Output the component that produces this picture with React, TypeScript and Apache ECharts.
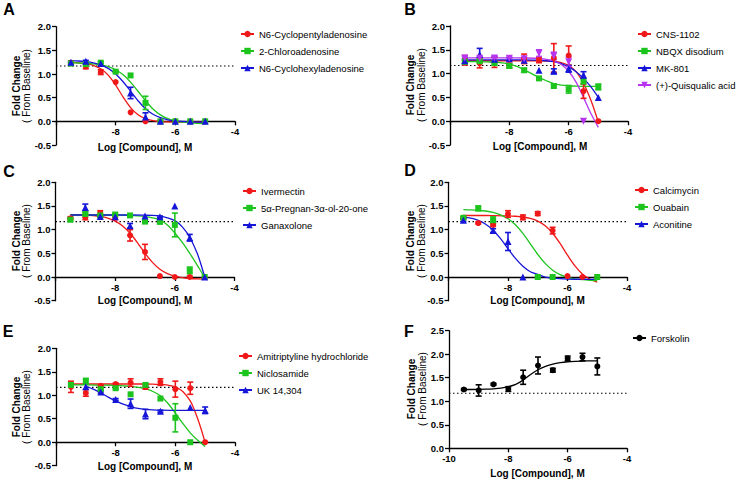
import React, { useEffect, useRef } from "react";
import * as echarts from "echarts";

// ---------- shared ----------
const doses = [-9.5, -9, -8.5, -8, -7.5, -7, -6.5, -6, -5.5, -5];
const baseline = 1.17;
const xTickValues = [-10, -8, -6, -4];

// ---------- Panel A ----------
const cpaY = [1.24, 1.16, 1.04, 0.83, 0.19, 0.0, 0.0, 0.0, 0.0, 0.0];
const cpaErr = [0.03, 0.05, 0.05, 0, 0, 0, 0, 0, 0, 0];
const cpaFit = [[-9.5, 1.244], [-9.25, 1.236], [-9, 1.22], [-8.75, 1.184], [-8.5, 1.11], [-8.25, 0.976], [-8, 0.765], [-7.75, 0.513], [-7.5, 0.29], [-7.25, 0.14], [-7, 0.057], [-6.75, 0.016], [-6.5, -0.004], [-6.25, -0.012], [-6, -0.016], [-5.5, -0.019], [-5, -0.02]];

const caY = [1.22, 1.21, 1.24, 1.05, 0.97, 0.39, 0.0, 0.0, 0.0, 0.0];
const caErr = [0.03, 0, 0.02, 0.02, 0, 0.14, 0, 0, 0, 0];
const caFit = [[-9.5, 1.236], [-9.25, 1.233], [-9, 1.227], [-8.75, 1.215], [-8.5, 1.194], [-8.25, 1.156], [-8, 1.09], [-7.75, 0.984], [-7.5, 0.83], [-7.25, 0.636], [-7, 0.435], [-6.75, 0.262], [-6.5, 0.137], [-6.25, 0.057], [-6, 0.009], [-5.75, -0.018], [-5.5, -0.033], [-5.25, -0.042], [-5, -0.046]];

const chaY = [1.25, 1.27, 1.22, null, 0.6, 0.09, 0.0, 0.0, 0.0, 0.0];
const chaErr = [0.02, 0.02, 0, 0, 0.12, 0.09, 0, 0, 0, 0];
const chaFit = [[-9.5, 1.282], [-9.25, 1.275], [-9, 1.261], [-8.75, 1.237], [-8.5, 1.194], [-8.25, 1.12], [-8, 1.0], [-7.75, 0.836], [-7.5, 0.635], [-7.25, 0.435], [-7, 0.268], [-6.75, 0.151], [-6.5, 0.077], [-6.25, 0.033], [-6, 0.009], [-5.5, -0.01], [-5, -0.017]];

// ---------- Panel B ----------
const cnsY = [1.28, 1.22, 1.24, 1.17, 1.31, 1.28, 1.33, 1.38, 0.63, 0.0];
const cnsErr = [0.1, 0.1, 0.11, 0.05, 0.1, 0.05, 0.3, 0.2, 0.15, 0];
const cnsFit = [[-9.5, 1.27], [-8.5, 1.27], [-7.5, 1.27], [-7, 1.268], [-6.75, 1.264], [-6.5, 1.255], [-6.25, 1.23], [-6, 1.17], [-5.75, 1.04], [-5.5, 0.8], [-5.375, 0.63], [-5.25, 0.44], [-5.125, 0.22], [-5, -0.02]];

const nbqxY = [1.25, 1.26, 1.22, 1.16, 1.07, 0.9, 0.74, 0.67, 0.83, 0.72];
const nbqxErr = [0.04, 0.03, 0.03, 0.04, 0.04, 0, 0.03, 0.08, 0, 0.06];
const nbqxFit = [[-9.5, 1.25], [-9, 1.25], [-8.75, 1.245], [-8.5, 1.24], [-8.25, 1.225], [-8, 1.2], [-7.75, 1.15], [-7.5, 1.08], [-7.25, 1.0], [-7, 0.92], [-6.75, 0.85], [-6.5, 0.79], [-6.25, 0.76], [-6, 0.745], [-5.75, 0.737], [-5.5, 0.733], [-5, 0.73]];

const mkY = [1.27, 1.4, 1.3, 1.31, 1.28, 1.07, 1.05, 1.1, 0.97, 0.5];
const mkErr = [0.05, 0.13, 0.06, 0.03, 0, 0, 0.05, 0.07, 0.07, 0];
const mkFit = [[-9.5, 1.29], [-8, 1.29], [-7.5, 1.288], [-7, 1.28], [-6.75, 1.27], [-6.5, 1.25], [-6.25, 1.21], [-6, 1.14], [-5.75, 1.04], [-5.5, 0.9], [-5.25, 0.72], [-5, 0.5]];

const qaY = [1.33, 1.32, 1.33, 1.32, 1.31, 1.43, 1.37, 1.25, 0.0, null];
const qaErr = [0.03, 0.03, 0.03, 0.02, 0.03, 0.07, 0.08, 0.1, 0, 0];
const qaFit = [[-9.5, 1.33], [-8, 1.33], [-7.5, 1.328], [-7, 1.32], [-6.75, 1.3], [-6.5, 1.27], [-6.25, 1.19], [-6, 1.05], [-5.75, 0.82], [-5.5, 0.5], [-5.25, 0.16], [-5, -0.13]];

// ---------- Panel C ----------
const ivY = [1.24, 1.26, 1.35, 1.25, 0.88, 0.53, 0.02, 0.0, 0.0, 0.0];
const ivErr = [0.03, 0.05, 0.05, 0.04, 0.12, 0.16, 0, 0, 0.02, 0];
const ivFit = [[-9.5, 1.317], [-9.25, 1.314], [-9, 1.309], [-8.75, 1.298], [-8.5, 1.279], [-8.25, 1.244], [-8, 1.18], [-7.75, 1.079], [-7.5, 0.924], [-7.25, 0.723], [-7, 0.5], [-6.75, 0.31], [-6.5, 0.164], [-6.25, 0.072], [-6, 0.017], [-5.75, -0.014], [-5.5, -0.031], [-5.25, -0.04], [-5, -0.044]];

const pregY = [1.21, 1.33, 1.3, 1.32, 1.3, 1.17, 1.17, 1.1, 0.14, 0.0];
const pregErr = [0.03, 0.03, 0.02, 0.02, 0.02, 0.02, 0.05, 0.25, 0.07, 0];
const pregFit = [[-9.5, 1.31], [-8, 1.31], [-7.75, 1.305], [-7.5, 1.3], [-7.25, 1.29], [-7, 1.275], [-6.75, 1.25], [-6.5, 1.21], [-6.25, 1.1], [-6, 0.93], [-5.75, 0.73], [-5.5, 0.5], [-5.25, 0.25], [-5, -0.01]];

const ganY = [null, 1.47, 1.28, 1.27, 1.08, 1.29, 1.27, 1.5, 0.83, 0.0];
const ganErr = [0, 0.07, 0.02, 0, 0.05, 0, 0.02, 0, 0.07, 0];
const ganFit = [[-9.5, 1.31], [-7.5, 1.31], [-7, 1.305], [-6.75, 1.3], [-6.5, 1.285], [-6.25, 1.25], [-6, 1.19], [-5.75, 1.06], [-5.5, 0.84], [-5.25, 0.5], [-5.125, 0.27], [-5, 0.0]];

// ---------- Panel D ----------
const calY = [1.25, 1.14, 1.1, 1.33, 1.26, 1.34, 0.98, 0.02, 0.0, 0.0];
const calErr = [0.02, 0.02, 0.03, 0.07, 0.05, 0.04, 0.07, 0, 0, 0];
const calFit = [[-9.5, 1.3], [-9, 1.299], [-8.5, 1.298], [-8, 1.291], [-7.75, 1.283], [-7.5, 1.267], [-7.25, 1.236], [-7, 1.18], [-6.75, 1.081], [-6.5, 0.924], [-6.25, 0.708], [-6, 0.461], [-5.75, 0.234], [-5.5, 0.064], [-5.25, -0.044], [-5, -0.108]];

const ouaY = [1.25, 1.45, 1.2, null, null, 0.0, 0.0, null, null, 0.0];
const ouaErr = [0.02, 0.05, 0.07, 0, 0, 0, 0, 0, 0, 0];
const ouaFit = [[-9.5, 1.424], [-9.25, 1.419], [-9, 1.41], [-8.75, 1.394], [-8.5, 1.365], [-8.25, 1.314], [-8, 1.231], [-7.75, 1.102], [-7.5, 0.921], [-7.25, 0.702], [-7, 0.479], [-6.75, 0.287], [-6.5, 0.145], [-6.25, 0.052], [-6, -0.005], [-5.75, -0.038], [-5.5, -0.057], [-5.25, -0.068], [-5, -0.073]];

const acoY = [1.2, null, 0.98, 0.75, 0.0, null, null, null, null, null];
const acoErr = [0.03, 0, 0.04, 0.19, 0, 0, 0, 0, 0, 0];
const acoFit = [[-9.5, 1.269], [-9.25, 1.243], [-9, 1.196], [-8.75, 1.115], [-8.5, 0.988], [-8.25, 0.81], [-8, 0.6], [-7.75, 0.392], [-7.5, 0.227], [-7.25, 0.112], [-7, 0.054], [-6.75, -0.001], [-6.5, -0.024], [-6, -0.043], [-5.5, -0.048], [-5, -0.05]];

// ---------- Panel E ----------
const amiY = [1.18, 1.05, 1.2, 1.24, 1.27, 1.18, 1.28, 1.13, 1.15, 0.0];
const amiErr = [0.12, 0.07, 0.02, 0.02, 0.08, 0.05, 0.07, 0.17, 0.13, 0];
const amiFit = [[-9.5, 1.24], [-7, 1.24], [-6.75, 1.235], [-6.5, 1.23], [-6.25, 1.215], [-6, 1.18], [-5.75, 1.08], [-5.5, 0.88], [-5.375, 0.71], [-5.25, 0.5], [-5.125, 0.26], [-5, -0.01]];

const nicY = [1.22, 1.3, 1.13, 1.15, 1.02, 1.22, 0.93, 0.52, 0.0, null];
const nicErr = [0.03, 0.06, 0.02, 0.02, 0, 0.03, 0, 0.3, 0, 0];
const nicFit = [[-9.5, 1.22], [-9, 1.22], [-8.5, 1.215], [-8, 1.21], [-7.75, 1.2], [-7.5, 1.19], [-7.25, 1.17], [-7, 1.14], [-6.75, 1.08], [-6.5, 0.99], [-6.25, 0.83], [-6, 0.62], [-5.75, 0.4], [-5.5, 0.2], [-5.25, 0.04], [-5, -0.09]];

const ukY = [null, 1.18, 1.07, 0.91, 0.82, 0.6, 0.66, null, 0.74, 0.68];
const ukErr = [0, 0, 0.02, 0.02, 0.1, 0.1, 0.02, 0, 0, 0.07];
const ukFit = [[-9, 1.19], [-8.75, 1.13], [-8.5, 1.05], [-8.25, 0.96], [-8, 0.88], [-7.75, 0.81], [-7.5, 0.76], [-7.25, 0.72], [-7, 0.7], [-6.75, 0.69], [-6.5, 0.685], [-6, 0.68], [-5.5, 0.68], [-5, 0.68]];

// ---------- Panel F ----------
const forY = [1.25, 1.23, 1.36, 1.26, 1.51, 1.76, 1.66, 1.91, 1.94, 1.74];
const forErr = [0.02, 0.12, 0.02, 0.05, 0.15, 0.18, 0.04, 0.05, 0.08, 0.18];
const forFit = [[-9.5, 1.25], [-9.25, 1.25], [-9, 1.252], [-8.75, 1.256], [-8.5, 1.265], [-8.25, 1.28], [-8, 1.31], [-7.75, 1.36], [-7.5, 1.45], [-7.25, 1.57], [-7, 1.67], [-6.75, 1.74], [-6.5, 1.79], [-6.25, 1.82], [-6, 1.84], [-5.75, 1.85], [-5.5, 1.855], [-5.25, 1.858], [-5, 1.86]];

// ---------- styling ----------
const FONT = "'Liberation Sans', Arial, Helvetica, sans-serif";
const RED = "#f01818";
const GREEN = "#1ec41e";
const BLUE = "#1616d8";
const PURPLE = "#b735f0";
const BLACK = "#000000";
const INV_TRI = "path://M0,0L10,0L5,9Z";

const comp = (name, color, symbol, size, y, err, fit) => ({ name, color, symbol, size, y, err, fit });

const panels = [
  {
    letter: "A", letterPos: [9, 9],
    grid: { left: 56, top: 26.7, width: 179, height: 118.3 },
    yMin: -0.5, yMax: 2, crossAtZero: true,
    legend: { left: 240, top: 29 },
    yTitle: [16, 26, 86], xTitle: [145, 147],
    comps: [
      comp("N6-Cyclopentyladenosine", RED, "circle", 6, cpaY, cpaErr, cpaFit),
      comp("2-Chloroadenosine", GREEN, "rect", 6, caY, caErr, caFit),
      comp("N6-Cyclohexyladenosine", BLUE, "triangle", 7, chaY, chaErr, chaFit),
    ],
  },
  {
    letter: "B", letterPos: [410, 9],
    grid: { left: 450, top: 26, width: 178, height: 119 },
    yMin: -0.5, yMax: 2, crossAtZero: true,
    legend: { left: 637, top: 29 },
    yTitle: [410, 421, 85], xTitle: [540, 146],
    comps: [
      comp("CNS-1102", RED, "circle", 6, cnsY, cnsErr, cnsFit),
      comp("NBQX disodium", GREEN, "rect", 6, nbqxY, nbqxErr, nbqxFit),
      comp("MK-801", BLUE, "triangle", 7, mkY, mkErr, mkFit),
      comp("(+)-Quisqualic acid", PURPLE, INV_TRI, 7, qaY, qaErr, qaFit),
    ],
  },
  {
    letter: "C", letterPos: [9, 171],
    grid: { left: 55.5, top: 182.3, width: 179, height: 118.4 },
    yMin: -0.5, yMax: 2, crossAtZero: true,
    legend: { left: 242, top: 186 },
    yTitle: [16, 26, 241], xTitle: [145, 300.7],
    comps: [
      comp("Ivermectin", RED, "circle", 6, ivY, ivErr, ivFit),
      comp("5α-Pregnan-3α-ol-20-one", GREEN, "rect", 6, pregY, pregErr, pregFit),
      comp("Ganaxolone", BLUE, "triangle", 7, ganY, ganErr, ganFit),
    ],
  },
  {
    letter: "D", letterPos: [410, 170],
    grid: { left: 448.5, top: 182.3, width: 178.5, height: 118.4 },
    yMin: -0.5, yMax: 2, crossAtZero: true,
    legend: { left: 634, top: 185 },
    yTitle: [410, 421, 241], xTitle: [537.5, 300.7],
    comps: [
      comp("Calcimycin", RED, "circle", 6, calY, calErr, calFit),
      comp("Ouabain", GREEN, "rect", 6, ouaY, ouaErr, ouaFit),
      comp("Aconitine", BLUE, "triangle", 7, acoY, acoErr, acoFit),
    ],
  },
  {
    letter: "E", letterPos: [8, 331],
    grid: { left: 56, top: 348.3, width: 179, height: 117.4 },
    yMin: -0.5, yMax: 2, crossAtZero: true,
    legend: { left: 238, top: 351 },
    yTitle: [16, 26, 407], xTitle: [145, 466],
    comps: [
      comp("Amitriptyline hydrochloride", RED, "circle", 6, amiY, amiErr, amiFit),
      comp("Niclosamide", GREEN, "rect", 6, nicY, nicErr, nicFit),
      comp("UK 14,304", BLUE, "triangle", 7, ukY, ukErr, ukFit),
    ],
  },
  {
    letter: "F", letterPos: [409, 331],
    grid: { left: 449, top: 330.7, width: 178, height: 117.6 },
    yMin: 0, yMax: 2.5, crossAtZero: false,
    legend: { left: 632, top: 333 },
    yTitle: [411, 422, 389], xTitle: [537.5, 473],
    comps: [comp("Forskolin", BLACK, "circle", 6, forY, forErr, forFit)],
  },
];

function errorBarSeries(c, idx) {
  const data = doses
    .map((x, k) => (c.y[k] != null && c.err[k] > 0 ? [x, c.y[k] - c.err[k], c.y[k] + c.err[k]] : null))
    .filter((d) => d);
  return {
    type: "custom",
    name: c.name,
    xAxisIndex: idx,
    yAxisIndex: idx,
    z: 3,
    silent: true,
    clip: false,
    encode: { x: 0, y: [1, 2] },
    data,
    renderItem: (params, api) => {
      const x = api.value(0);
      const top = api.coord([x, api.value(2)]);
      const bot = api.coord([x, api.value(1)]);
      const w = 3;
      const st = { stroke: c.color, lineWidth: 1.6 };
      return {
        type: "group",
        children: [
          { type: "line", shape: { x1: top[0], y1: top[1], x2: bot[0], y2: bot[1] }, style: st },
          { type: "line", shape: { x1: top[0] - w, y1: top[1], x2: top[0] + w, y2: top[1] }, style: st },
          { type: "line", shape: { x1: bot[0] - w, y1: bot[1], x2: bot[0] + w, y2: bot[1] }, style: st },
        ],
      };
    },
  };
}

function buildOption() {
  const series = [];
  const graphic = [];
  panels.forEach((p, i) => {
    series.push({
      type: "line",
      xAxisIndex: i,
      yAxisIndex: i,
      data: [[xTickValues[0], baseline], [xTickValues[xTickValues.length - 1], baseline]],
      symbol: "none",
      silent: true,
      z: 1,
      lineStyle: { color: "#000", width: 1.2, type: [1.5, 2.5] },
    });
    p.comps.forEach((c) => {
      series.push({
        type: "line",
        name: c.name,
        xAxisIndex: i,
        yAxisIndex: i,
        data: c.fit,
        smooth: 0.3,
        showSymbol: false,
        symbol: c.symbol,
        symbolSize: c.size,
        silent: true,
        z: 2,
        itemStyle: { color: c.color },
        lineStyle: { color: c.color, width: 1.3 },
      });
    });
    p.comps.forEach((c) => series.push(errorBarSeries(c, i)));
    p.comps.forEach((c) => {
      series.push({
        type: "scatter",
        name: c.name,
        xAxisIndex: i,
        yAxisIndex: i,
        data: doses.map((x, k) => (c.y[k] == null ? null : [x, c.y[k]])).filter((d) => d),
        symbol: c.symbol,
        symbolSize: c.size,
        silent: true,
        z: 4,
        itemStyle: { color: c.color, opacity: 1 },
      });
    });

    graphic.push({
      type: "text",
      x: p.letterPos[0],
      y: p.letterPos[1],
      style: { text: p.letter, fontSize: 16, fontWeight: "bold", fontFamily: FONT, fill: "#000", textAlign: "center", textVerticalAlign: "middle" },
    });
    graphic.push({
      type: "text",
      x: p.yTitle[0],
      y: p.yTitle[2],
      rotation: Math.PI / 2,
      style: { text: "Fold Change", fontSize: 10, fontWeight: "bold", fontFamily: FONT, fill: "#000", textAlign: "center", textVerticalAlign: "middle" },
    });
    graphic.push({
      type: "text",
      x: p.yTitle[1],
      y: p.yTitle[2],
      rotation: Math.PI / 2,
      style: { text: "( From Baseline)", fontSize: 10, fontFamily: FONT, fill: "#000", textAlign: "center", textVerticalAlign: "middle" },
    });
    graphic.push({
      type: "text",
      x: p.xTitle[0],
      y: p.xTitle[1],
      style: { text: "Log [Compound], M", fontSize: 10, fontWeight: "bold", fontFamily: FONT, fill: "#000", textAlign: "center", textVerticalAlign: "middle" },
    });
  });

  return {
    animation: false,
    backgroundColor: "#ffffff",
    grid: panels.map((p) => ({ ...p.grid, containLabel: false })),
    xAxis: panels.map((p, i) => ({
      type: "value",
      gridIndex: i,
      min: xTickValues[0],
      max: xTickValues[xTickValues.length - 1],
      interval: 2,
      position: "bottom",
      // move the x axis up so that it crosses the y axis at 0
      offset: p.crossAtZero ? -p.grid.height * ((0 - p.yMin) / (p.yMax - p.yMin)) : 0,
      axisLine: { show: true, onZero: false, lineStyle: { color: "#000", width: 1.3 } },
      axisTick: { show: true, length: 4, lineStyle: { color: "#000", width: 1.3 } },
      axisLabel: {
        margin: 5,
        color: "#000",
        fontSize: 9.5,
        fontWeight: "bold",
        fontFamily: FONT,
        formatter: (v) => (p.crossAtZero && v === xTickValues[0] ? "" : String(v)),
      },
      splitLine: { show: false },
    })),
    yAxis: panels.map((p, i) => ({
      type: "value",
      gridIndex: i,
      min: p.yMin,
      max: p.yMax,
      interval: 0.5,
      axisLine: { show: true, onZero: false, lineStyle: { color: "#000", width: 1.3 } },
      axisTick: { show: true, length: 4, lineStyle: { color: "#000", width: 1.3 } },
      axisLabel: {
        margin: 5,
        color: "#000",
        fontSize: 9.5,
        fontWeight: "bold",
        fontFamily: FONT,
        formatter: (v) => v.toFixed(1),
      },
      splitLine: { show: false },
    })),
    legend: panels.map((p) => ({
      data: p.comps.map((c) => c.name),
      orient: "vertical",
      left: p.legend.left,
      top: p.legend.top,
      itemWidth: 13,
      itemHeight: 8,
      itemGap: 7,
      padding: 0,
      selectedMode: false,
      textStyle: { fontSize: 9.5, color: "#000", fontFamily: FONT },
    })),
    graphic,
    series,
  };
}

export default function App() {
  const ref = useRef(null);
  useEffect(() => {
    document.body.style.margin = "0";
    const chart = echarts.init(ref.current, null, { renderer: "svg", width: 740, height: 480 });
    chart.setOption(buildOption());
    return () => chart.dispose();
  }, []);
  return <div ref={ref} style={{ position: "absolute", left: 0, top: 0, width: 740, height: 480 }} />;
}
